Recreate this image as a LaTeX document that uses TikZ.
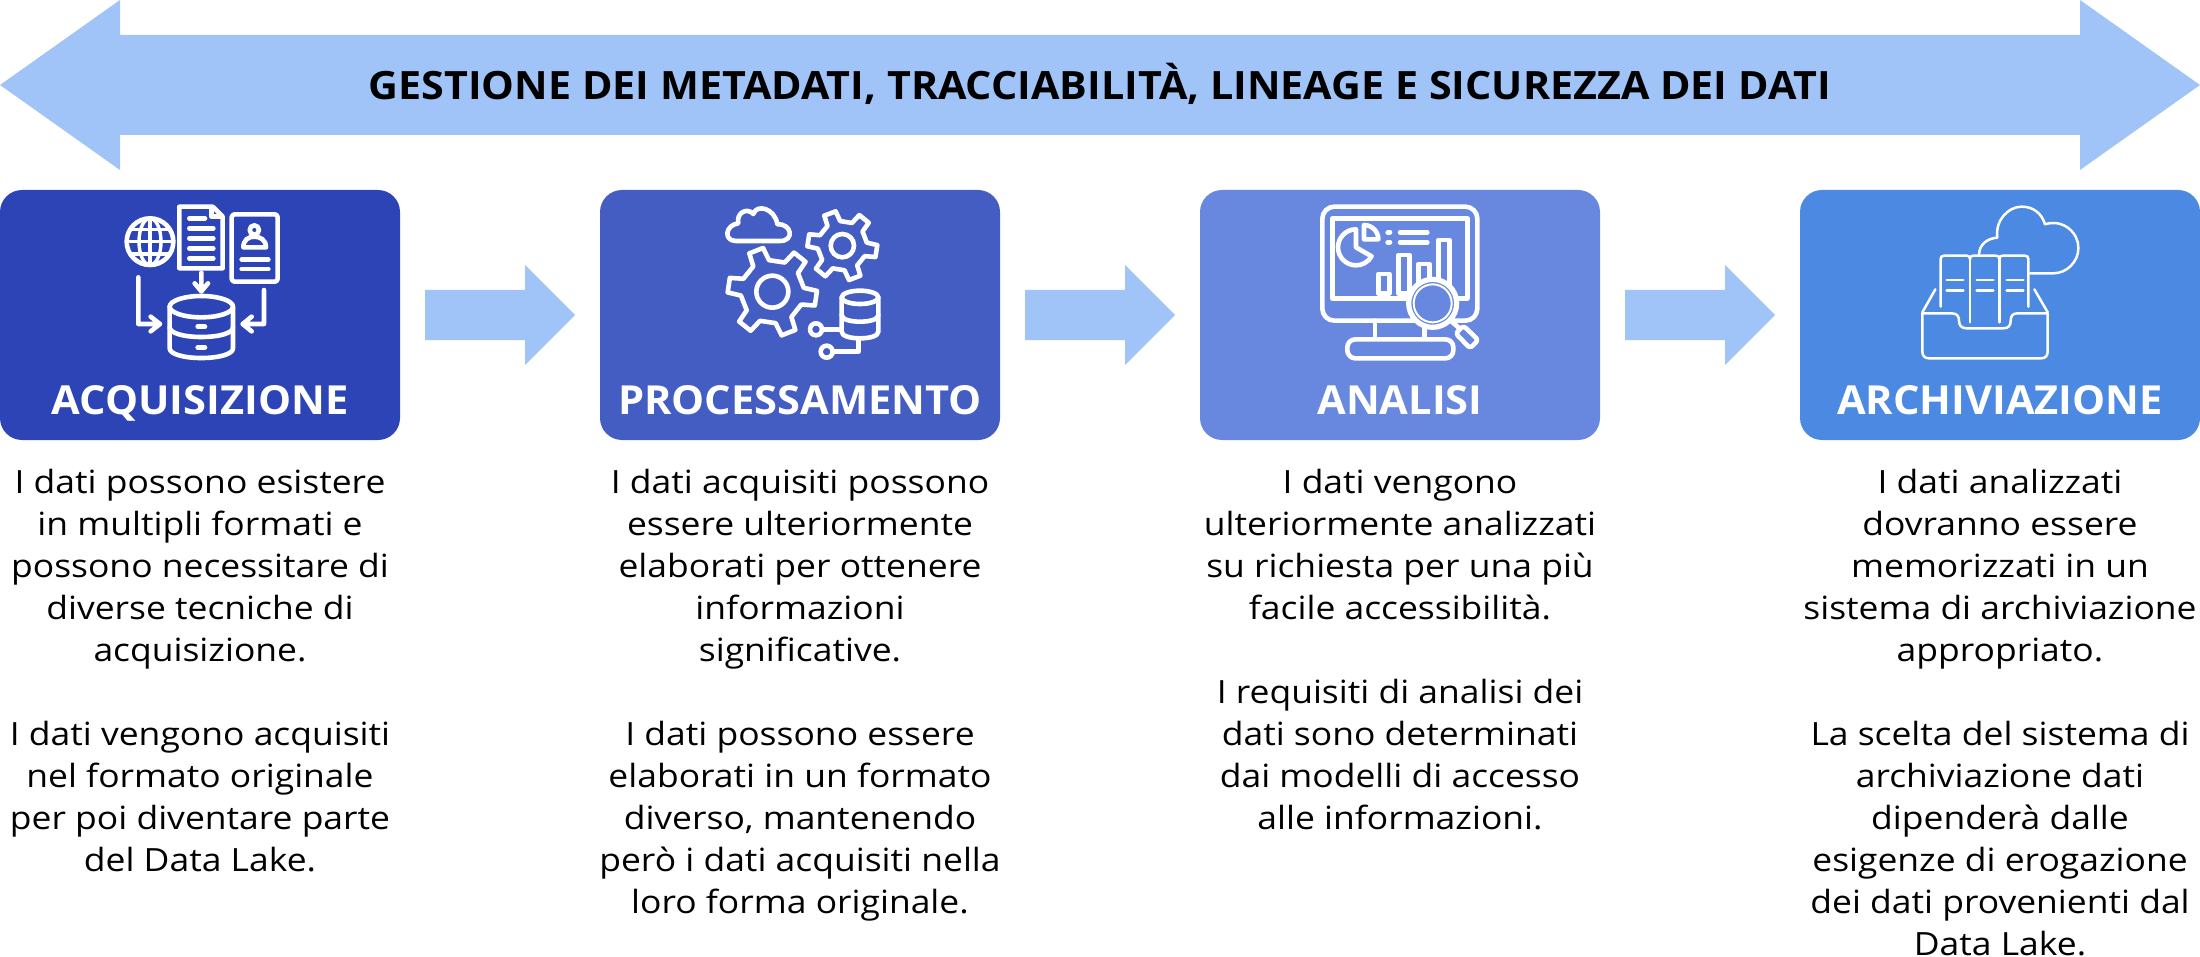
\documentclass[tikz,border=0pt]{standalone}
\usepackage{fontspec}
\setmainfont{Open Sans}
\newfontfamily\bodyfont[FakeStretch=1.108]{Open Sans}
\newfontfamily\titlefont[FakeStretch=1.04,BoldFont={Open Sans Bold}]{Open Sans}
\newfontfamily\headfont[FakeStretch=1.058,BoldFont={Open Sans Bold}]{Open Sans}
\definecolor{cA}{HTML}{2D44B7}
\definecolor{cB}{HTML}{435DC2}
\definecolor{cC}{HTML}{6888DF}
\definecolor{cD}{HTML}{4C89E3}
\definecolor{arrowblue}{HTML}{A0C4F8}
\tikzset{
  stagebox/.style={fill=#1,draw=none,rounded corners=11pt,minimum width=200pt,minimum height=125pt,inner sep=0pt,outer sep=0pt},
  stagetitle/.style={anchor=base,text=white,font=\fontsize{20}{24}\selectfont\titlefont\bfseries,inner sep=0pt},
  bodytext/.style={anchor=north,align=center,inner sep=0pt,text=black,font=\fontsize{16}{21}\selectfont\bodyfont},
  headtext/.style={anchor=base,text=black,font=\fontsize{19.5}{24}\selectfont\headfont\bfseries,inner sep=0pt},
  flowarrow/.style={fill=arrowblue,draw=none},
  ic/.style={draw=white,line width=2.3pt,line cap=round,line join=round},
  icthin/.style={draw=white,line width=1.25pt,line cap=round,line join=round},
  iconzoom/.style={shift={#1},x=0.166667pt,y=-0.166667pt},
}
\newcommand{\gearpath}[6]{% cx cy R r halfangle offset
  \begin{scope}[shift={(#1,#2)}]
  \draw[ic] (#6-#5:#3)
   \foreach \g in {0,60,...,300} { -- (#6+\g-#5:#3) -- (#6+\g+#5:#3) -- (#6+\g+#5+6:#4) -- (#6+\g+60-#5-6:#4) } -- cycle;
  \end{scope}
}
\begin{document}
\begin{tikzpicture}[x=0.5pt,y=-0.5pt]
\useasboundingbox (0,0) rectangle (2200,957);
% top double arrow
\path[flowarrow] (0,85) -- (120,0) -- (120,35) -- (2080,35) -- (2080,0) -- (2200,85) -- (2080,170) -- (2080,135) -- (120,135) -- (120,170) -- cycle;
\node[headtext] (head) at (1100,100) {GESTIONE DEI METADATI, TRACCIABILITÀ, LINEAGE E SICUREZZA DEI DATI};
% boxes
\node[stagebox=cA] (b1) at (200,315) {};
\node[stagebox=cB] (b2) at (800,315) {};
\node[stagebox=cC] (b3) at (1400,315) {};
\node[stagebox=cD] (b4) at (2000,315) {};
\node[stagetitle] (t1) at (200,414) {ACQUISIZIONE};
\node[stagetitle] (t2) at (800,414) {PROCESSAMENTO};
\node[stagetitle] (t3) at (1400,414) {ANALISI};
\node[stagetitle] (t4) at (2000,414) {ARCHIVIAZIONE};
% small arrows
\foreach \ox in {0,600,1200}{
 \path[flowarrow,xshift=\ox*0.5pt] (425,290) -- (525,290) -- (525,265) -- (575,315) -- (525,365) -- (525,340) -- (425,340) -- cycle;
}
% body text
\node[bodytext] (p1) at (200,469) {I dati possono esistere\\in multipli formati e\\possono necessitare di\\diverse tecniche di\\acquisizione.\\\mbox{}\\I dati vengono acquisiti\\nel formato originale\\per poi diventare parte\\del Data Lake.};
\node[bodytext] (p2) at (800,469) {I dati acquisiti possono\\essere ulteriormente\\elaborati per ottenere\\informazioni\\significative.\\\mbox{}\\I dati possono essere\\elaborati in un formato\\diverso, mantenendo\\però i dati acquisiti nella\\loro forma originale.};
\node[bodytext] (p3) at (1400,469) {I dati vengono\\ulteriormente analizzati\\su richiesta per una più\\facile accessibilità.\\\mbox{}\\I requisiti di analisi dei\\dati sono determinati\\dai modelli di accesso\\alle informazioni.};
\node[bodytext] (p4) at (2000,469) {I dati analizzati\\dovranno essere\\memorizzati in un\\sistema di archiviazione\\appropriato.\\\mbox{}\\La scelta del sistema di\\archiviazione dati\\dipenderà dalle\\esigenze di erogazione\\dei dati provenienti dal\\Data Lake.};
% icon 1
\begin{scope}[iconzoom={(100,190)}]
 \draw[ic] (238,50) -- (338,50) -- (368,80) -- (368,235) -- (238,235) -- cycle;
 \draw[ic] (335,55) -- (335,80) -- (365,80);
 \draw[ic] (268,85) -- (315,85) (268,115) -- (340,115) (268,145) -- (340,145) (268,175) -- (340,175) (268,205) -- (340,205);
 \draw[ic,rounded corners=1.5pt] (395,73) rectangle (533,275);
 \draw[ic] (463,120) circle[radius=14];
 \draw[ic] (430,172) .. controls (430,150) and (445,140) .. (463,140) .. controls (481,140) and (498,150) .. (498,172) -- cycle;
 \draw[ic] (425,209) -- (505,209) (425,237) -- (505,237);
 \draw[ic] (150,155) circle[radius=70];
 \draw[ic,line width=1.7pt] (150,155) ellipse[x radius=33,y radius=70];
 \draw[ic,line width=1.7pt] (150,85) -- (150,225) (80,155) -- (220,155) (92,118) -- (208,118) (92,192) -- (208,192);
 \draw[ic] (115,262) -- (115,402) -- (180,402) (152,380) -- (180,402) -- (152,424);
 \draw[ic] (304,248) -- (304,304) (284,280) -- (304,304) -- (324,280);
 \draw[ic] (492,300) -- (492,402) -- (428,402) (455,380) -- (428,402) -- (455,424);
 \draw[ic] (304,350) ellipse[x radius=95,y radius=32];
 \draw[ic] (209,350) -- (209,475) .. controls (209,492) and (250,504) .. (304,504) .. controls (358,504) and (399,492) .. (399,475) -- (399,350);
 \draw[ic] (209,412) .. controls (209,429) and (250,441) .. (304,441) .. controls (358,441) and (399,429) .. (399,412);
 \draw[ic] (293,410) -- (315,410) (293,472) -- (315,472);
\end{scope}
% icon 2
\begin{scope}[iconzoom={(700,190)}]
 \draw[ic] (108,153) -- (240,153) .. controls (285,153) and (275,100) .. (232,103) .. controls (225,55) and (170,40) .. (160,72) .. controls (140,50) and (108,70) .. (115,100) .. controls (75,105) and (70,153) .. (108,153) -- cycle;
 \gearpath{217}{305}{134}{95}{9.5}{8.5}
 \draw[ic] (217,305) circle[radius=48];
 \gearpath{427}{167}{105}{74}{10}{9}
 \draw[ic] (427,167) circle[radius=35];
 \draw[ic] (480,322) ellipse[x radius=55,y radius=20];
 \draw[ic] (425,322) -- (425,425) .. controls (425,438) and (450,445) .. (480,445) .. controls (510,445) and (535,438) .. (535,425) -- (535,322);
 \draw[ic] (425,375) .. controls (425,388) and (450,395) .. (480,395) .. controls (510,395) and (535,388) .. (535,375);
 \draw[ic] (348,418) circle[radius=18];
 \draw[ic] (366,418) -- (425,418);
 \draw[ic] (380,485) circle[radius=18];
 \draw[ic] (398,485) -- (475,485) -- (475,447);
\end{scope}
% icon 3
\begin{scope}[iconzoom={(1290,190)}]
 \draw[ic,rounded corners=6pt] (97,50) rectangle (562,392);
 \draw[ic] (127,85) rectangle (532,325);
 \draw[ic] (255,392) -- (255,445) (403,392) -- (403,445);
 \draw[ic,rounded corners=4pt] (172,505) -- (172,448) -- (490,448) -- (490,505) -- cycle;
 \draw[ic] (198,118) arc[start angle=-90,delta angle=-240,radius=54] -- (198,172) -- cycle;
 \draw[ic] (222,105) arc[start angle=-90,delta angle=90,radius=43] -- (222,148) -- cycle;
 \draw[ic] (293,127) -- (300,127) (293,157) -- (300,157) (330,127) -- (412,127) (330,157) -- (412,157);
 \draw[ic] (265,252) rectangle (298,310);
 \draw[ic] (325,195) rectangle (358,310);
 \draw[ic] (385,222) rectangle (418,300);
 \draw[ic] (445,150) rectangle (478,300);
 \fill[cC] (428,340) circle[radius=76];
 \draw[ic,line width=2.6pt] (428,340) circle[radius=72];
 \draw[ic,line width=1pt] (428,340) circle[radius=57];
 \draw[ic] (485,395) -- (505,412);
 \draw[ic,rounded corners=1.5pt] (520,407) -- (565,450) -- (540,475) -- (497,430) -- cycle;
\end{scope}
% icon 4
\begin{scope}[iconzoom={(1880,190)}]
 \draw[icthin] (297,195) .. controls (297,165) and (320,145) .. (352,143) .. controls (345,90) and (385,50) .. (425,50) .. controls (460,50) and (485,70) .. (495,103) .. controls (550,85) and (597,130) .. (595,175) .. controls (595,215) and (560,250) .. (520,250) -- (450,250);
 \draw[icthin] (182,350) -- (182,207) .. controls (182,200) and (186,197) .. (192,197) -- (260,197) .. controls (266,197) and (270,200) .. (270,207) .. controls (270,200) and (274,197) .. (280,197) -- (348,197) .. controls (354,197) and (358,200) .. (358,207) .. controls (358,200) and (362,197) .. (368,197) -- (435,197) .. controls (441,197) and (445,200) .. (445,207) -- (445,350);
 \draw[icthin] (270,207) -- (270,397) (358,207) -- (358,397);
 \draw[icthin] (200,270) -- (250,270) (200,302) -- (250,302) (290,270) -- (340,270) (290,302) -- (340,302) (380,270) -- (430,270) (380,302) -- (430,302);
 \draw[icthin] (127,370) -- (127,485) .. controls (127,498) and (135,505) .. (147,505) -- (483,505) .. controls (495,505) and (503,498) .. (503,485) -- (503,370);
 \draw[icthin] (127,370) -- (215,370) .. controls (230,370) and (237,378) .. (237,392) .. controls (237,407) and (245,415) .. (260,415) -- (370,415) .. controls (385,415) and (392,407) .. (392,392) .. controls (392,378) and (398,370) .. (412,370) -- (503,370);
 \draw[icthin] (127,367) -- (166,298) (503,367) -- (463,298);
\end{scope}
\end{tikzpicture}
\end{document}
